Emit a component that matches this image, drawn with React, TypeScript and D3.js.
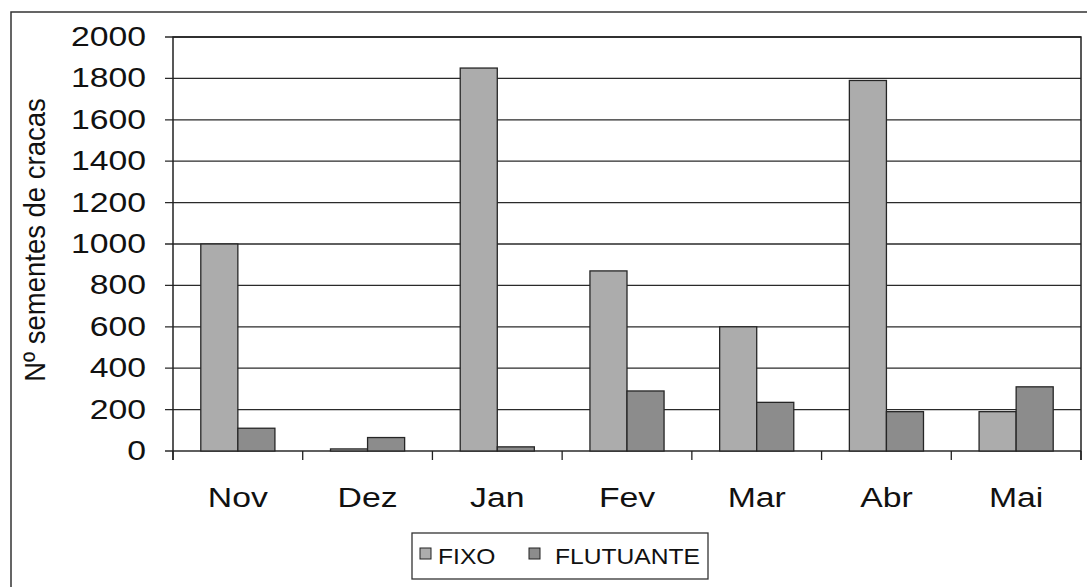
import { useEffect, useRef } from 'react';
import * as d3 from 'd3';

const months = ['Nov', 'Dez', 'Jan', 'Fev', 'Mar', 'Abr', 'Mai'];
const series = ['FIXO', 'FLUTUANTE'];
const fixo = [1000, 10, 1850, 870, 600, 1790, 190];
const flutuante = [110, 65, 20, 290, 235, 190, 310];
const yTicks = [0, 200, 400, 600, 800, 1000, 1200, 1400, 1600, 1800, 2000];
const colors = ['#acacac', '#8c8c8c'];

const W = 1087;
const H = 587;

export default function App() {
  const svgRef = useRef<SVGSVGElement>(null);

  useEffect(() => {
    if (!svgRef.current) return;
    const svg = d3.select(svgRef.current);
    svg.selectAll('*').remove();

    const left = 173, right = 1081, top = 37, bottom = 451;
    const font = 'Liberation Sans, Arial, sans-serif';

    // outer frame (only left and top edges are visible in the scan)
    svg.append('rect').attr('width', W).attr('height', H).attr('fill', '#fff');
    svg.append('path').attr('d', `M11,${H}V12H${W}`).attr('fill', 'none').attr('stroke', '#333').attr('stroke-width', 1.5);

    const x0 = d3.scaleBand<string>().domain(months).range([left, right]).padding(0);
    const x1 = d3.scaleBand<string>().domain(series).range([0, x0.bandwidth()]).paddingInner(0).paddingOuter(0.75);
    const y = d3.scaleLinear().domain([0, 2000]).range([bottom, top]);

    // gridlines
    svg.append('g')
      .selectAll('line')
      .data(yTicks)
      .join('line')
      .attr('x1', left - 8)
      .attr('x2', right)
      .attr('y1', d => y(d))
      .attr('y2', d => y(d))
      .attr('stroke', '#2a2a2a')
      .attr('stroke-width', 1.3);

    // plot border
    svg.append('path')
      .attr('d', `M${left},${bottom + 9}V${top}H${right}V${bottom + 9}`)
      .attr('fill', 'none')
      .attr('stroke', '#222')
      .attr('stroke-width', 1.5);

    // x ticks at category boundaries
    const bounds = months.map(m => x0(m)!).concat([right]);
    svg.append('g')
      .selectAll('line')
      .data(bounds)
      .join('line')
      .attr('x1', d => d)
      .attr('x2', d => d)
      .attr('y1', bottom)
      .attr('y2', bottom + 9)
      .attr('stroke', '#222')
      .attr('stroke-width', 1.3);

    // bars
    const rows = months.map((m, i) => ({ m, vals: [fixo[i], flutuante[i]] }));
    const groups = svg.append('g')
      .selectAll('g')
      .data(rows)
      .join('g')
      .attr('transform', d => `translate(${x0(d.m)},0)`);
    groups.selectAll('rect')
      .data(d => d.vals.map((v, j) => ({ s: series[j], v, j })))
      .join('rect')
      .attr('x', d => x1(d.s)!)
      .attr('width', x1.bandwidth())
      .attr('y', d => y(d.v))
      .attr('height', d => bottom - y(d.v))
      .attr('fill', d => colors[d.j])
      .attr('stroke', '#262626')
      .attr('stroke-width', 1.3);

    // y tick labels
    svg.append('g')
      .selectAll('text')
      .data(yTicks)
      .join('text')
      .attr('transform', d => `translate(146,${y(d) + 9}) scale(1.25,1)`)
      .attr('text-anchor', 'end')
      .attr('font-family', font)
      .attr('font-size', 27)
      .attr('fill', '#111')
      .text(d => String(d));

    // x category labels
    svg.append('g')
      .selectAll('text')
      .data(months)
      .join('text')
      .attr('transform', d => `translate(${x0(d)! + x0.bandwidth() / 2},507) scale(1.25,1)`)
      .attr('text-anchor', 'middle')
      .attr('font-family', font)
      .attr('font-size', 27)
      .attr('fill', '#111')
      .text(d => d);

    // y axis title
    svg.append('text')
      .attr('transform', 'translate(45,240) scale(1.1,1) rotate(-90)')
      .attr('text-anchor', 'middle')
      .attr('font-family', font)
      .attr('font-size', 27.5)
      .attr('fill', '#111')
      .text('Nº sementes de cracas');

    // legend
    const lg = svg.append('g');
    lg.append('rect')
      .attr('x', 412).attr('y', 533).attr('width', 296).attr('height', 46)
      .attr('fill', '#fff').attr('stroke', '#333').attr('stroke-width', 1.3);
    const swatchX = [420, 529];
    const textX = [438, 555];
    series.forEach((s, i) => {
      lg.append('rect')
        .attr('x', swatchX[i]).attr('y', 548).attr('width', 11).attr('height', 11)
        .attr('fill', colors[i]).attr('stroke', '#222').attr('stroke-width', 1);
      lg.append('text')
        .attr('transform', `translate(${textX[i]},564) scale(1.12,1)`)
        .attr('font-family', font)
        .attr('font-size', 22)
        .attr('fill', '#111')
        .text(s);
    });
  }, []);

  return (
    <div style={{ position: 'absolute', left: 0, top: 0 }}>
      <svg ref={svgRef} width={W} height={H} style={{ display: 'block' }} />
    </div>
  );
}
